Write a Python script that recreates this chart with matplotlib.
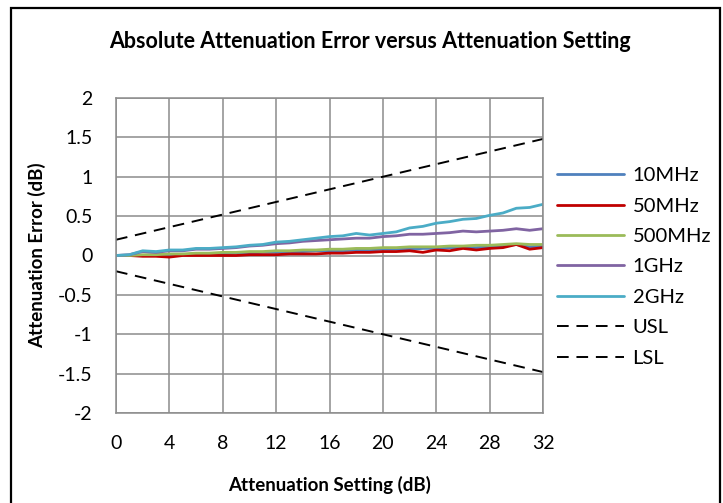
import numpy as np
import matplotlib
matplotlib.use("Agg")
import matplotlib.pyplot as plt
from matplotlib.patches import Rectangle
from matplotlib.ticker import FuncFormatter

plt.rcParams['font.family'] = ['Lato', 'DejaVu Sans']
plt.rcParams['axes.unicode_minus'] = False

# attenuation setting (dB)
atten = list(range(0, 33))

err_10mhz = [0, 0.0, 0.0, 0.01, 0.01, 0.01, 0.02, 0.02, 0.02, 0.03, 0.03, 0.04, 0.04,
             0.05, 0.05, 0.06, 0.06, 0.06, 0.07, 0.07, 0.08, 0.08, 0.08, 0.09, 0.09,
             0.1, 0.1, 0.1, 0.11, 0.12, 0.14, 0.11, 0.12]
err_50mhz = [0, 0.0, -0.01, -0.01, -0.02, 0.0, 0.0, 0.0, 0.0, 0.0, 0.01, 0.01, 0.01,
             0.02, 0.02, 0.02, 0.03, 0.03, 0.04, 0.04, 0.05, 0.05, 0.06, 0.04, 0.07,
             0.06, 0.09, 0.07, 0.09, 0.1, 0.14, 0.08, 0.1]
err_500mhz = [0, 0.0, 0.01, 0.01, 0.02, 0.02, 0.03, 0.03, 0.04, 0.04, 0.05, 0.05, 0.06,
              0.06, 0.07, 0.07, 0.08, 0.08, 0.09, 0.09, 0.1, 0.1, 0.11, 0.11, 0.11,
              0.12, 0.12, 0.13, 0.13, 0.14, 0.15, 0.14, 0.14]
err_1ghz = [0, 0.01, 0.05, 0.04, 0.06, 0.06, 0.08, 0.08, 0.09, 0.1, 0.12, 0.13, 0.15,
            0.16, 0.18, 0.19, 0.2, 0.21, 0.22, 0.22, 0.24, 0.25, 0.27, 0.27, 0.28,
            0.29, 0.31, 0.3, 0.31, 0.32, 0.34, 0.32, 0.34]
err_2ghz = [0, 0.01, 0.06, 0.05, 0.07, 0.07, 0.09, 0.09, 0.1, 0.11, 0.13, 0.14, 0.17,
            0.18, 0.2, 0.22, 0.24, 0.25, 0.28, 0.26, 0.28, 0.3, 0.35, 0.37, 0.41,
            0.43, 0.46, 0.47, 0.51, 0.54, 0.6, 0.61, 0.65]

# spec limits: +/-(0.2 dB + 4% of setting)
limit_x = [0, 32]
usl = [0.2, 1.48]
lsl = [-0.2, -1.48]

series = [("10MHz", err_10mhz, "#4F81BD"),
          ("50MHz", err_50mhz, "#C00000"),
          ("500MHz", err_500mhz, "#9BBB59"),
          ("1GHz", err_1ghz, "#8064A2"),
          ("2GHz", err_2ghz, "#4BACC6")]

fig = plt.figure(figsize=(7.23, 5.03), dpi=100)
ax = fig.add_axes([116/723, 1 - 413/503, 427/723, 315/503])

for name, vals, col in series:
    ax.plot(atten, vals, color=col, lw=2.0, label=name, solid_capstyle='round')
ax.plot(limit_x, usl, color='black', lw=1.4, ls=(0, (6, 4)), label='USL')
ax.plot(limit_x, lsl, color='black', lw=1.4, ls=(0, (6, 4)), label='LSL')

ax.set_xlim(0, 32)
ax.set_ylim(-2, 2)
ax.set_xticks(np.arange(0, 33, 4))
ax.set_yticks(np.arange(-2, 2.01, 0.5))
ax.yaxis.set_major_formatter(FuncFormatter(lambda v, p: '%g' % v))
ax.grid(True, color='#8C8C8C', lw=1.1)
ax.set_axisbelow(True)
for s in ax.spines.values():
    s.set_color('#8C8C8C')
    s.set_linewidth(1.1)
ax.tick_params(length=0, labelsize=14)
ax.tick_params(axis='x', pad=16)
ax.tick_params(axis='y', pad=17)

ax.set_xlabel('Attenuation Setting (dB)', fontsize=13.5, fontweight='bold', labelpad=17)
ax.set_ylabel('Attenuation Error (dB)', fontsize=13.5, fontweight='bold', labelpad=8)
fig.text(370/723, 1 - 42/503, 'Absolute Attenuation Error versus Attenuation Setting',
         ha='center', va='center', fontsize=15.5, fontweight='bold')

ax.legend(loc='upper left', bbox_to_anchor=(1.0, 0.825), frameon=False,
          fontsize=14.5, handlelength=3.3, handletextpad=0.45, labelspacing=0.66,
          borderaxespad=0.3)

fig.patches.append(Rectangle((11/723, -0.01), 709/723, 1 - 8/503 + 0.01,
                             transform=fig.transFigure,
                             fill=False, edgecolor='black', lw=1.6))

fig.savefig('out.png', dpi=100)
